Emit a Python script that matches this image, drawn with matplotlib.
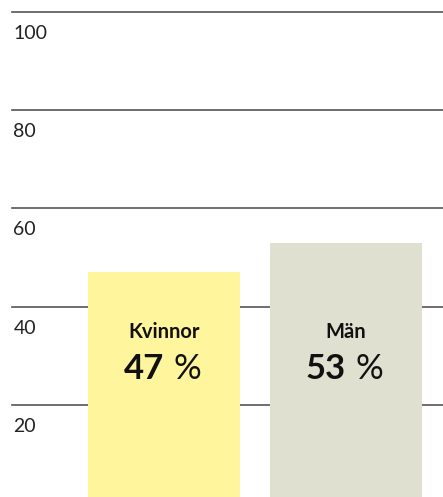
import numpy as np
import matplotlib.pyplot as plt
from matplotlib.transforms import offset_copy

categories = ['Kvinnor', 'Män']
values = [47, 53]
colors = ['#fff59d', '#dfe0d0']
yticks = [20, 40, 60, 80, 100]

fig = plt.figure(figsize=(4.43, 4.97), dpi=100)
ax = fig.add_axes([0, 0, 1, 1])

x = np.arange(len(categories))
ax.set_xlim(-0.901, 1.533)
ax.set_ylim(1.27, 102.44)

# gridlines start a bit in from the left edge
for t in yticks:
    ax.axhline(t, xmin=12 / 443, xmax=1, color='#555555', lw=1.2, zorder=1)
    ax.text(0.03, t - 2.6, str(t), transform=ax.get_yaxis_transform(),
            ha='left', va='top', fontsize=14, color='#222222',
            family='Lato')

ax.bar(x, values, width=0.835, color=colors, zorder=2)

for i, (c, v) in enumerate(zip(categories, values)):
    ax.text(x[i], 34.9, c, ha='center', va='center', fontsize=14.5,
            fontweight='bold', color='#111111', family='Lato', zorder=3)
    tr_l = offset_copy(ax.transData, fig=fig, x=0, y=0, units='dots')
    tr_r = offset_copy(ax.transData, fig=fig, x=10, y=0, units='dots')
    ax.text(x[i], 27.3, str(v), transform=tr_l, ha='right', va='center',
            fontsize=25, fontweight='bold', color='#111111',
            family='Lato', zorder=3)
    ax.text(x[i], 27.3, '%', transform=tr_r, ha='left', va='center',
            fontsize=25, fontweight='normal', color='#111111',
            family='Lato', zorder=3)

ax.axis('off')
fig.savefig('out.png', dpi=100)
